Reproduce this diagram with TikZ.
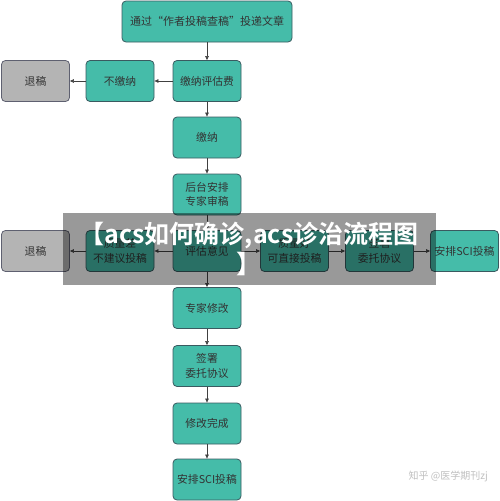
\documentclass[tikz,border=0pt]{standalone}
\usepackage{fontspec}
\setmainfont{Noto Sans CJK SC}
\newfontfamily\titlefont{Noto Sans CJK SC Bold}
\usetikzlibrary{arrows.meta}
\definecolor{teal1}{HTML}{45BCA9}
\definecolor{tealborder}{HTML}{3A5A60}
\definecolor{greybox}{HTML}{B4B4B4}
\definecolor{greyborder}{HTML}{5E6070}
\definecolor{txt}{HTML}{333333}
\tikzset{
  box/.style={draw=tealborder, fill=teal1, rounded corners=4pt, line width=0.8pt,
    minimum width=68pt, minimum height=41pt, inner sep=1pt, align=center,
    font=\fontsize{10.8}{14.5}\selectfont, text=txt},
  greyb/.style={box, fill=greybox, draw=greyborder},
  arr/.style={draw=black!75, line width=0.6pt, -{Triangle[length=4pt,width=3.5pt]}}
}
\begin{document}
\begin{tikzpicture}[x=1pt,y=-1pt]
\useasboundingbox (0,0) rectangle (500,501);
\node[box, minimum width=170pt, font=\fontsize{11}{14}\selectfont] (top) at (207,21.5) {通过“作者投稿查稿”投递文章};
\node[box] (fee) at (207,81) {缴纳评估费};
\node[box] (nofee) at (120,81) {不缴纳};
\node[greyb] (rej1) at (35.5,81) {退稿};
\node[box] (pay) at (207,137.5) {缴纳};
\node[box] (review) at (207,194.5) {后台安排\\专家审稿};
\node[box] (eval) at (207,251) {评估意见};
\node[box] (bad) at (120,251) {质量差\\不建议投稿};
\node[greyb] (rej2) at (35.5,251) {退稿};
\node[box] (good) at (294.5,251) {质量好\\可直接投稿};
\node[box] (sign1) at (379.5,251) {签署\\委托协议};
\node[box] (sci1) at (464.5,251) {安排SCI投稿};
\node[box] (mod) at (207,308) {专家修改};
\node[box] (sign2) at (207,366) {签署\\委托协议};
\node[box] (done) at (207,423.5) {修改完成};
\node[box] (sci2) at (207,479.5) {安排SCI投稿};
\draw[arr] (top) -- (fee);
\draw[arr] (fee) -- (nofee);
\draw[arr] (nofee) -- (rej1);
\draw[arr] (fee) -- (pay);
\draw[arr] (pay) -- (review);
\draw[arr] (review) -- (eval);
\draw[arr] (eval) -- (bad);
\draw[arr] (bad) -- (rej2);
\draw[arr] (eval) -- (good);
\draw[arr] (good) -- (sign1);
\draw[arr] (sign1) -- (sci1);
\draw[arr] (eval) -- (mod);
\draw[arr] (mod) -- (sign2);
\draw[arr] (sign2) -- (done);
\draw[arr] (done) -- (sci2);
% overlay band
\fill[black, opacity=0.4] (63,213) rectangle (436,285);
\node[text=white, font=\titlefont\fontsize{25}{30}\selectfont, align=center, inner sep=0pt] (title) at (249,249) {【acs如何确诊,acs诊治流程图\\】};
\node[text=black!25, font=\fontsize{10}{12}\selectfont, anchor=east, inner sep=0pt] (wm) at (488,476) {知乎 @医学期刊zj};
\end{tikzpicture}
\end{document}
